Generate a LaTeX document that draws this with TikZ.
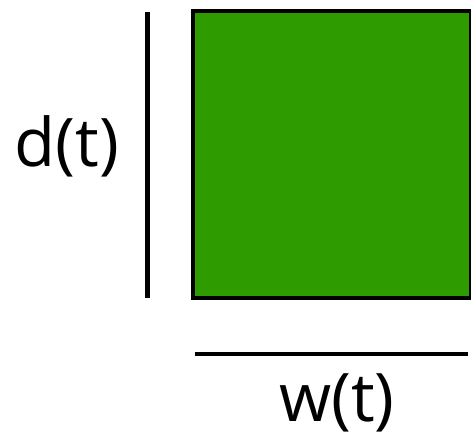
\documentclass[tikz,border=0pt]{standalone}
\usepackage{fontspec}
\setmainfont{Open Sans}
\definecolor{boxgreen}{HTML}{2E9B00}
\begin{document}
\begin{tikzpicture}[x=1pt,y=-1pt,
  lbl/.style={font=\fontsize{67}{80}\selectfont, inner sep=0pt, anchor=center},
  rule/.style={line width=4.5pt}]
\useasboundingbox (0,0) rectangle (471,440);
\node[draw=black, line width=4.5pt, fill=boxgreen, minimum width=278pt, minimum height=287pt, inner sep=0pt, anchor=north west] (box) at (190.5,8.5) {};
\coordinate (vtop) at (147.5,12);
\coordinate (vbot) at (147.5,298);
\draw[rule] (vtop) -- (vbot);
\coordinate (hl) at (195,354);
\coordinate (hr) at (468,354);
\draw[rule] (hl) -- (hr);
\node[lbl] (d) at (67,146) {d(t)};
\node[lbl] (w) at (337,403) {w(t)};
\end{tikzpicture}
\end{document}
